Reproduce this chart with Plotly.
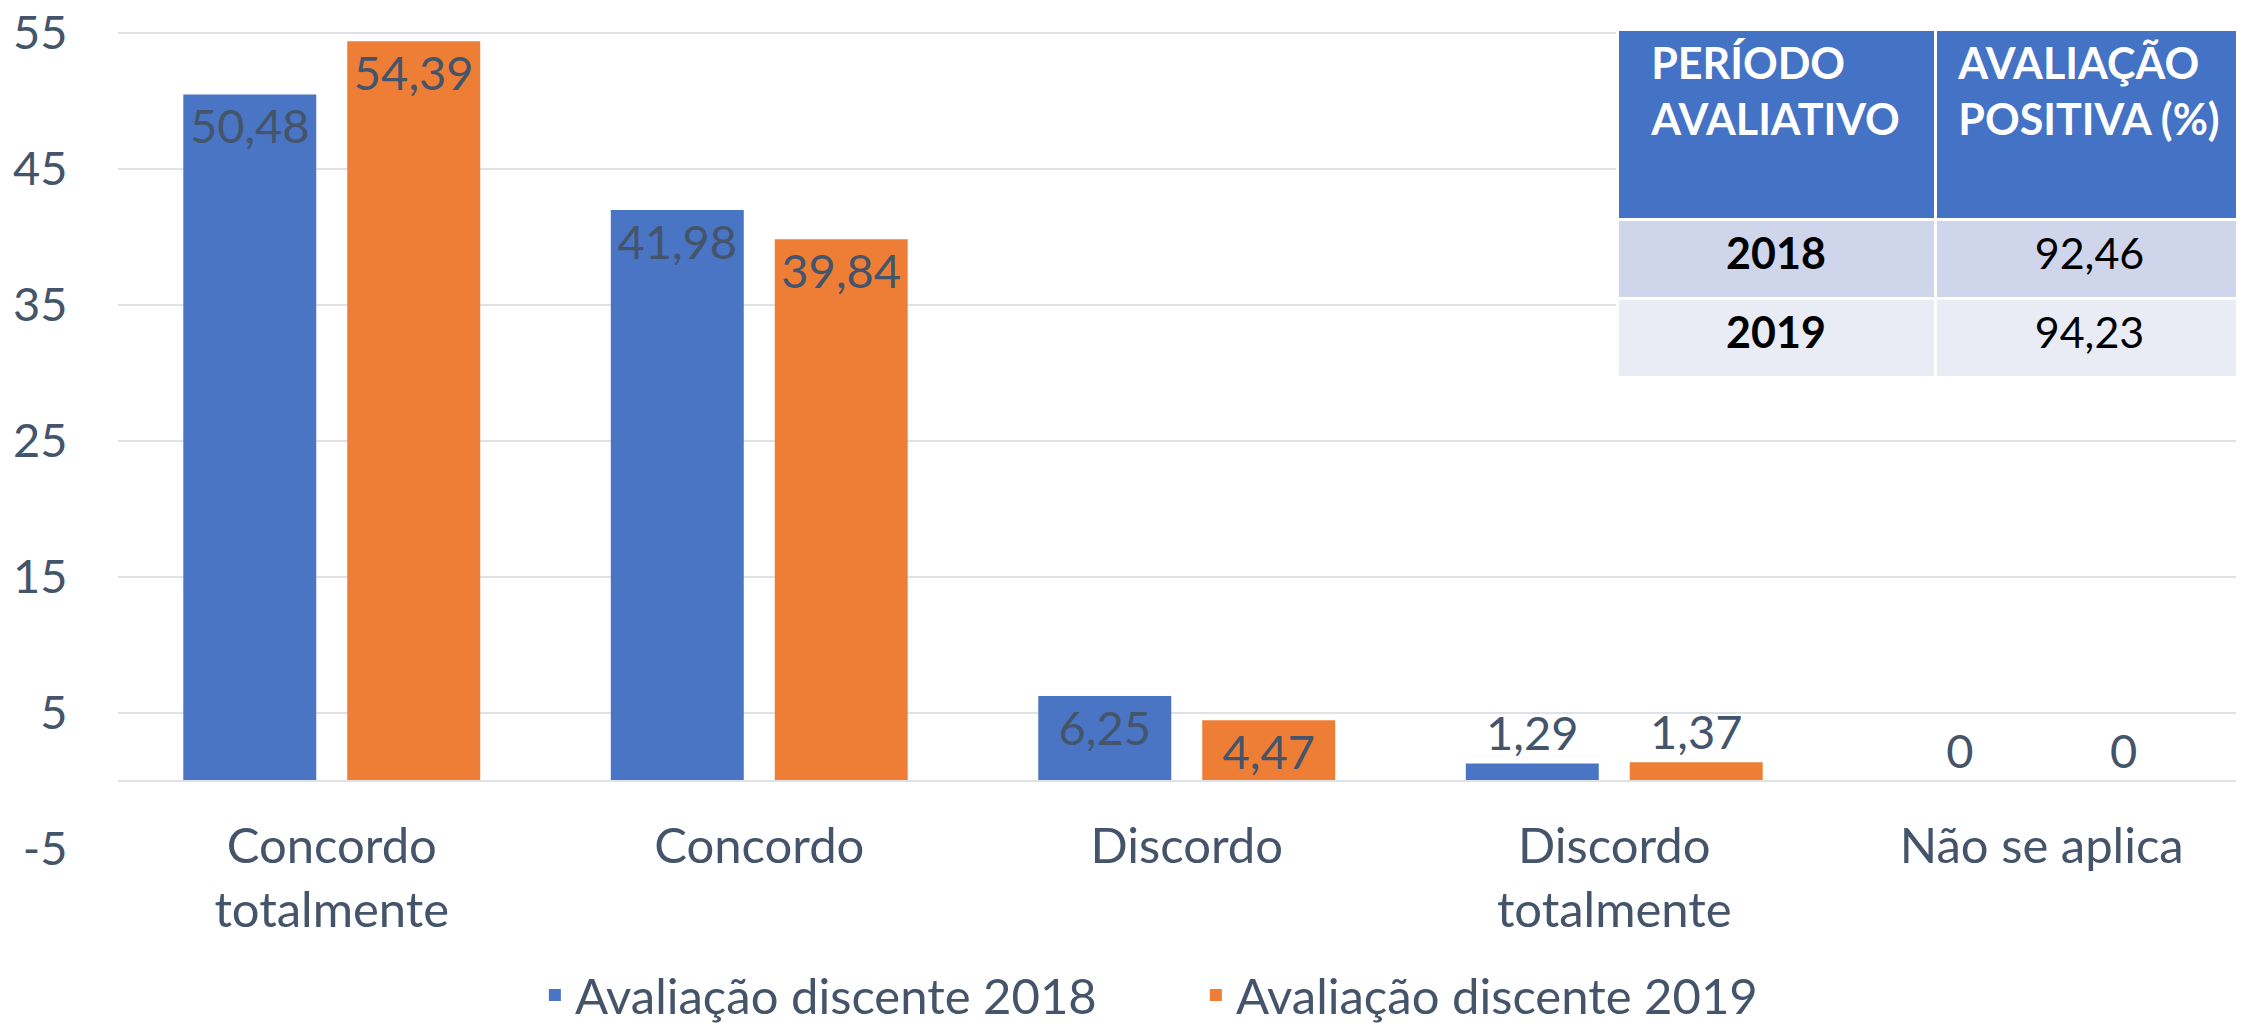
import plotly.graph_objects as go

categories = ["Concordo<br>totalmente", "Concordo", "Discordo", "Discordo<br>totalmente", "Não se aplica"]
series_2018 = [50.48, 41.98, 6.25, 1.29, 0]
series_2019 = [54.39, 39.84, 4.47, 1.37, 0]
series_names = ["Avaliação discente 2018", "Avaliação discente 2019"]
label_pos_2018 = ["inside", "inside", "inside", "outside", "outside"]
label_pos_2019 = ["inside", "inside", "inside", "outside", "outside"]

table_header = ["PERÍODO<br>AVALIATIVO", "AVALIAÇÃO<br>POSITIVA (%)"]
table_years = ["2018", "2019"]
table_values = [92.46, 94.23]

y_ticks = [-5, 5, 15, 25, 35, 45, 55]
y_tick_text = ["-5", "5", "15", "25", "35", "45", "55"]

FONT = "Lato"
TXT = "#44546A"
BLUE = "#4A75C4"
ORANGE = "#EE7E36"
GRID = "#DEE2E7"

# page body has an 8px margin; the figure is offset by it
W, H = 2236, 1015
L, T, B = 110, 11, 174
PLOT_W = W - L
PLOT_H = H - T - B
PX_PER_UNIT = 13.6
Y_MAX = -5 + PLOT_H / PX_PER_UNIT
CAT_W = 427.5
X_MAX = -0.5 + PLOT_W / CAT_W


def fmt(v):
    return "0" if v == 0 else f"{v:.2f}".replace(".", ",")


fig = go.Figure()
for name, vals, color, pos in [
    (series_names[0], series_2018, BLUE, label_pos_2018),
    (series_names[1], series_2019, ORANGE, label_pos_2019),
]:
    fig.add_trace(go.Bar(
        x=categories, y=vals, name=name,
        marker=dict(color=color, line=dict(width=0)),
        text=[fmt(v) for v in vals],
        textposition=pos,
        insidetextanchor="end",
        constraintext="none",
        textfont=dict(family=FONT, size=47, color=TXT),
        cliponaxis=False,
    ))

fig.add_trace(go.Table(
    domain=dict(x=[(1609 - L) / PLOT_W, 1.0], y=[0.5, 1 - 10 / PLOT_H]),
    columnwidth=[318, 309],
    header=dict(
        values=[f"<b>{h}</b>" for h in table_header],
        fill_color="#4472C4",
        line=dict(color="white", width=3),
        align="center",
        height=190,
        font=dict(family=FONT, size=43, color="white"),
    ),
    cells=dict(
        values=[[f"<b>{y}</b>" for y in table_years],
                [f"<span>{fmt(v)}</span>" for v in table_values]],
        fill_color=[["#CFD5EA", "#E9EBF5"], ["#CFD5EA", "#E9EBF5"]],
        line=dict(color="white", width=3),
        align="center",
        height=79,
        font=dict(family=FONT, size=43, color="black"),
    ),
))

fig.update_layout(
    width=W, height=H,
    margin=dict(l=L, r=0, t=T, b=B, autoexpand=False),
    paper_bgcolor="white", plot_bgcolor="white",
    barmode="group", bargap=0.233, bargroupgap=0.189,
    font=dict(family=FONT, size=47, color=TXT),
    showlegend=True,
    legend=dict(
        orientation="h", x=0.507, xanchor="center", y=-0.176, yanchor="middle",
        font=dict(family=FONT, size=49, color=TXT),
        entrywidth=616,
    ),
)
fig.update_xaxes(
    type="category", range=[-0.5, X_MAX],
    anchor="free", position=(5 / (Y_MAX + 5)),
    showline=True, linecolor=GRID, linewidth=2,
    ticks="outside", ticklen=22, tickcolor="rgba(0,0,0,0)",
    tickfont=dict(family=FONT, size=49, color=TXT),
    showgrid=False, fixedrange=True, automargin=False,
)
fig.update_yaxes(
    range=[-5, Y_MAX], tickvals=y_ticks, ticktext=y_tick_text,
    showgrid=True, gridcolor=GRID, gridwidth=2,
    zeroline=False,
    ticks="outside", ticklen=40, tickcolor="rgba(0,0,0,0)",
    tickfont=dict(family=FONT, size=47, color=TXT),
    ticklabeloverflow="allow",
    fixedrange=True, automargin=False,
)

fig.write_html("out.html")
